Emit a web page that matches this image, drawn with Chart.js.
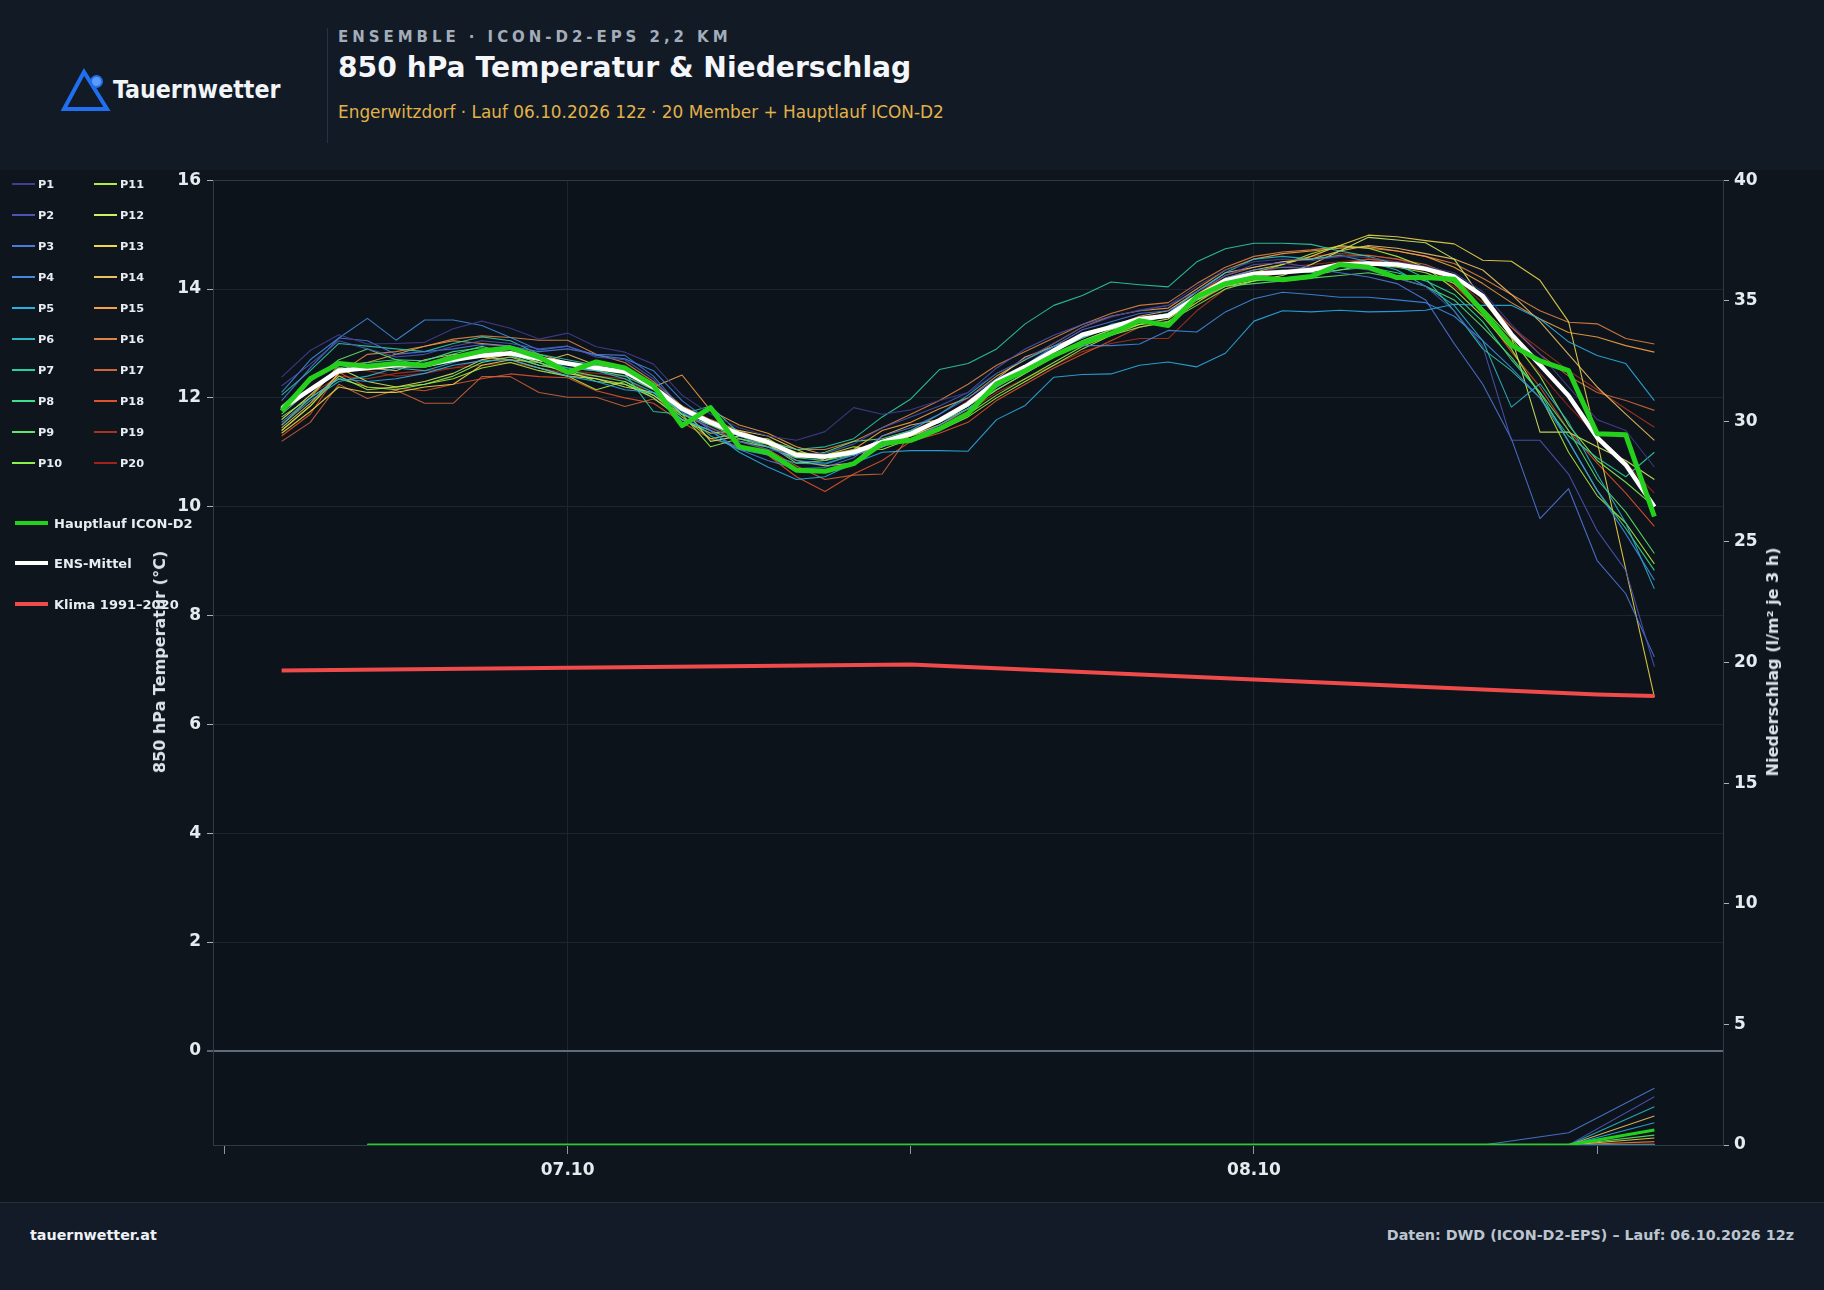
<!DOCTYPE html>
<html lang="de">
<head>
<meta charset="utf-8">
<title>850 hPa Temperatur &amp; Niederschlag</title>
<script src="https://cdn.jsdelivr.net/npm/chart.js@4.4.1/dist/chart.umd.min.js"></script>
<style>
  html, body { margin: 0; padding: 0; }
  body {
    width: 1824px; height: 1290px; position: relative; overflow: hidden;
    background: #0f151d; font-family: "DejaVu Sans", sans-serif;
  }
  .abs { position: absolute; white-space: nowrap; line-height: 1; }
  #header { position: absolute; left: 0; top: 0; width: 1824px; height: 170px; background: #111a25; }
  #brand { left: 113px; top: 78px; font-family: "DejaVu Sans Condensed", "DejaVu Sans", sans-serif; font-stretch: condensed; font-weight: bold; font-size: 24.7px; color: #f2f5f8; }
  #divider { left: 327px; top: 28px; width: 1px; height: 115px; background: #273240; }
  #kicker { left: 338px; top: 30px; font-weight: bold; font-size: 15px; letter-spacing: 3.95px; color: #a3adba; }
  #title { left: 338px; top: 53.5px; font-weight: bold; font-size: 28.2px; color: #f4f6f9; }
  #subtitle { left: 338px; top: 104px; font-size: 16.9px; color: #e2b24a; }
  #chartBox { position: absolute; left: 0; top: 164px; width: 1824px; height: 1038px; }
  #footer { position: absolute; left: 0; top: 1202px; width: 1824px; height: 88px; background: #121b27; border-top: 1px solid #243040; box-sizing: border-box; }
  .foot { top: 25px; font-weight: bold; font-size: 14.3px; }
  .legTxt { font-weight: bold; color: #e8edf2; }
  .legLine { position: absolute; }
  .axTitle { position: absolute; white-space: nowrap; font-weight: bold; font-size: 16px; color: #dde3ea; transform: translate(-50%, -50%) rotate(-90deg); line-height: 1; }
</style>
</head>
<body>
<div id="header">
  <svg class="abs" style="left:50px;top:60px" width="64" height="56" viewBox="0 0 64 56">
    <polygon points="34,12 14,49 57,49" fill="none" stroke="#1f6ff0" stroke-width="4" stroke-linejoin="miter"/>
    <circle cx="46.5" cy="21.5" r="5.5" fill="#5c9cf6" stroke="#1f6ff0" stroke-width="2"/>
  </svg>
  <div id="brand" class="abs">Tauernwetter</div>
  <div id="divider" class="abs"></div>
  <div id="kicker" class="abs">ENSEMBLE · ICON-D2-EPS 2,2 KM</div>
  <div id="title" class="abs">850 hPa Temperatur &amp; Niederschlag</div>
  <div id="subtitle" class="abs">Engerwitzdorf · Lauf 06.10.2026 12z · 20 Member + Hauptlauf ICON-D2</div>
</div>

<div id="chartBox"><canvas id="chart"></canvas></div>
<div id="legendLayer"></div>
<div class="axTitle" style="left:160px;top:662px">850 hPa Temperatur (°C)</div>
<div class="axTitle" style="left:1773px;top:662px">Niederschlag (l/m² je 3 h)</div>

<div id="footer">
  <div class="abs foot" style="left:30px;color:#eef2f6">tauernwetter.at</div>
  <div class="abs foot" style="right:30px;color:#bcc5cf">Daten: DWD (ICON-D2-EPS) – Lauf: 06.10.2026 12z</div>
</div>

<script>
// hours since 06.10 00:00 (local), hourly temperature steps
const tempHours = [14, 15, 16, 17, 18, 19, 20, 21, 22, 23, 24, 25, 26, 27, 28, 29, 30, 31, 32, 33, 34, 35, 36, 37, 38,
  39, 40, 41, 42, 43, 44, 45, 46, 47, 48, 49, 50, 51, 52, 53, 54, 55, 56, 57, 58, 59, 60, 61, 62];
// 3-hourly precipitation steps
const precipHours = [17, 20, 23, 26, 29, 32, 35, 38, 41, 44, 47, 50, 53, 56, 59, 62];

const xTickHours = [12, 24, 36, 48, 60];
const xTickLabels = ["", "07.10", "", "08.10", ""];
const tempTicks = [0, 2, 4, 6, 8, 10, 12, 14, 16];

const memberNames = ["P1", "P2", "P3", "P4", "P5", "P6", "P7", "P8", "P9", "P10",
  "P11", "P12", "P13", "P14", "P15", "P16", "P17", "P18", "P19", "P20"];
const memberColors = ["#413d8f", "#4a55b5", "#4f78dc", "#3f8be0", "#2aaee6", "#2bb8c6", "#2ccfa5", "#3ee08d", "#5ee66c", "#8cf04a",
  "#b2ee3e", "#d2ee62", "#eed848", "#eec064", "#f5a244", "#e08444", "#d0643a", "#e2522a", "#a8331f", "#a0221a"];

const mainRun = [11.76, 12.35, 12.63, 12.58, 12.63, 12.60, 12.74, 12.86, 12.92, 12.75, 12.47, 12.66, 12.55, 12.23, 11.49, 11.82, 11.10,
  11.00, 10.67, 10.65, 10.79, 11.16, 11.22, 11.43, 11.71, 12.26, 12.50, 12.78, 13.01, 13.18, 13.42, 13.33, 13.86,
  14.10, 14.21, 14.17, 14.23, 14.45, 14.40, 14.21, 14.21, 14.18, 13.59, 12.97, 12.68, 12.50, 11.34, 11.32, 9.82];
const ensMean = [11.80, 12.15, 12.50, 12.55, 12.60, 12.60, 12.70, 12.78, 12.82, 12.72, 12.63, 12.55, 12.48, 12.20, 11.80, 11.55, 11.34,
  11.19, 10.95, 10.92, 11.00, 11.19, 11.34, 11.59, 11.89, 12.30, 12.57, 12.87, 13.16, 13.30, 13.45, 13.51, 13.85,
  14.16, 14.28, 14.31, 14.35, 14.45, 14.47, 14.45, 14.37, 14.23, 13.87, 13.17, 12.61, 12.04, 11.27, 10.77, 10.00];

const climHours = [14, 36, 60, 62];
const climTemp = [6.99, 7.10, 6.55, 6.52];

const memberTemp = [
  // P1
  [12.38, 12.87, 13.16, 12.99, 13.00, 13.02, 13.27, 13.41, 13.28, 13.08, 13.19, 12.94, 12.84, 12.62, 12.05, 11.70, 11.45,
   11.30, 11.22, 11.38, 11.82, 11.70, 11.78, 11.95, 12.10, 12.45, 12.72, 13.00, 13.30, 13.48, 13.62, 13.70, 14.05,
   14.35, 14.50, 14.55, 14.52, 14.60, 14.58, 14.50, 14.42, 14.30, 13.95, 13.35, 12.80, 12.20, 11.60, 11.40, 10.73],
  // P2
  [12.22, 12.62, 13.05, 12.90, 12.75, 12.80, 12.95, 13.05, 13.00, 12.90, 12.95, 12.75, 12.70, 12.35, 11.75, 11.45, 11.20,
   11.05, 10.95, 10.98, 11.15, 11.45, 11.65, 11.85, 12.10, 12.55, 12.90, 13.15, 13.35, 13.50, 13.60, 13.70, 13.95,
   14.25, 14.45, 14.48, 14.40, 14.42, 14.35, 14.20, 14.05, 13.60, 12.95, 11.22, 11.22, 10.60, 9.56, 8.83, 7.06],
  // P3
  [11.95, 12.55, 13.10, 13.05, 12.80, 12.85, 12.90, 12.98, 12.95, 12.85, 12.90, 12.80, 12.78, 12.40, 11.80, 11.40, 11.05,
   10.85, 10.70, 10.72, 10.90, 11.30, 11.45, 11.70, 12.00, 12.35, 12.60, 12.95, 13.25, 13.40, 13.55, 13.60, 13.85,
   14.20, 14.35, 14.40, 14.38, 14.30, 14.22, 14.10, 13.80, 13.00, 12.25, 11.25, 9.78, 10.33, 9.01, 8.40, 7.24],
  // P4
  [12.10, 12.70, 13.10, 13.46, 13.06, 13.43, 13.43, 13.33, 13.11, 12.88, 12.95, 12.78, 12.72, 12.50, 11.95, 11.55, 11.30,
   11.10, 10.85, 10.80, 10.95, 11.10, 11.25, 11.50, 11.80, 12.20, 12.50, 12.80, 12.96, 12.96, 12.99, 13.24, 13.21,
   13.58, 13.82, 13.94, 13.90, 13.85, 13.85, 13.80, 13.75, 13.50, 13.05, 12.55, 12.00, 11.20, 10.30, 9.50, 8.65],
  // P5
  [11.55, 12.00, 12.35, 12.30, 12.35, 12.45, 12.60, 12.68, 12.70, 12.55, 12.40, 12.30, 12.15, 12.10, 11.60, 11.40, 11.00,
   10.73, 10.50, 10.55, 10.80, 11.00, 11.03, 11.03, 11.02, 11.60, 11.86, 12.38, 12.43, 12.44, 12.60, 12.66, 12.57,
   12.82, 13.41, 13.60, 13.58, 13.61, 13.58, 13.59, 13.61, 13.72, 13.70, 13.70, 13.45, 13.03, 12.78, 12.63, 11.95],
  // P6
  [11.50, 11.95, 12.30, 12.40, 12.55, 12.50, 12.65, 12.80, 12.90, 12.75, 12.55, 12.50, 12.35, 12.10, 11.75, 11.30, 11.05,
   10.95, 10.80, 10.78, 10.95, 11.20, 11.40, 11.70, 12.05, 12.45, 12.70, 12.95, 13.10, 13.35, 13.45, 13.55, 13.95,
   14.30, 14.55, 14.60, 14.55, 14.62, 14.50, 14.35, 14.05, 13.70, 13.05, 11.83, 12.26, 11.55, 10.60, 9.70, 8.49],
  // P7
  [12.05, 12.50, 13.00, 12.95, 12.90, 12.85, 13.00, 13.12, 13.05, 12.80, 12.70, 12.60, 12.45, 11.75, 11.70, 11.85, 11.35,
   11.20, 11.05, 11.10, 11.25, 11.65, 11.98, 12.52, 12.63, 12.90, 13.36, 13.70, 13.88, 14.13, 14.08, 14.04, 14.50,
   14.74, 14.84, 14.84, 14.82, 14.70, 14.60, 14.45, 14.20, 13.60, 12.90, 12.50, 12.00, 11.30, 10.90, 10.55, 11.00],
  // P8
  [11.70, 12.15, 12.55, 12.65, 12.70, 12.68, 12.85, 12.92, 12.78, 12.60, 12.55, 12.50, 12.40, 12.15, 11.70, 11.50, 11.25,
   11.10, 10.90, 10.85, 10.95, 11.20, 11.35, 11.55, 11.85, 12.25, 12.55, 12.85, 13.10, 13.30, 13.45, 13.55, 13.85,
   14.10, 14.30, 14.35, 14.30, 14.35, 14.40, 14.30, 14.15, 13.90, 13.40, 12.70, 12.10, 11.20, 10.30, 9.60, 8.83],
  // P9
  [11.85, 12.30, 12.70, 12.90, 12.70, 12.60, 12.80, 12.95, 12.80, 12.65, 12.50, 12.40, 12.30, 12.00, 11.60, 11.40, 11.20,
   11.10, 10.90, 11.00, 11.20, 11.25, 11.40, 11.55, 11.80, 12.15, 12.45, 12.75, 13.05, 13.25, 13.40, 13.50, 13.80,
   14.05, 14.10, 14.15, 14.20, 14.25, 14.30, 14.20, 14.05, 13.80, 13.30, 12.75, 12.10, 11.40, 10.50, 9.90, 9.14],
  // P10
  [11.65, 12.00, 12.35, 12.20, 12.15, 12.25, 12.40, 12.65, 12.75, 12.60, 12.50, 12.30, 12.25, 12.05, 11.70, 11.10, 11.25,
   11.15, 10.80, 10.85, 11.05, 11.15, 11.30, 11.45, 11.70, 12.05, 12.35, 12.65, 12.95, 13.15, 13.30, 13.40, 13.70,
   14.00, 14.15, 14.20, 14.25, 14.35, 14.45, 14.40, 14.30, 14.10, 13.65, 13.10, 12.40, 11.50, 10.85, 10.45, 10.00],
  // P11
  [11.40, 11.85, 12.40, 12.15, 12.20, 12.25, 12.35, 12.55, 12.65, 12.50, 12.40, 12.15, 12.30, 12.05, 11.65, 11.25, 11.35,
   11.20, 11.00, 10.95, 11.10, 11.05, 11.25, 11.40, 11.65, 12.00, 12.30, 12.60, 12.90, 13.15, 13.35, 13.40, 13.75,
   14.10, 14.30, 14.45, 14.65, 14.80, 14.75, 14.60, 14.40, 14.00, 13.50, 12.90, 12.05, 11.00, 10.20, 9.70, 8.95],
  // P12
  [11.60, 12.05, 12.55, 12.30, 12.20, 12.30, 12.45, 12.70, 12.80, 12.65, 12.45, 12.35, 12.20, 12.10, 11.85, 11.20, 11.30,
   11.25, 10.95, 10.90, 10.95, 11.10, 11.35, 11.55, 11.85, 12.20, 12.50, 12.80, 13.00, 13.20, 13.35, 13.45, 13.80,
   14.05, 14.15, 14.25, 14.45, 14.70, 14.95, 14.90, 14.85, 14.55, 13.80, 13.12, 11.37, 11.37, 11.10, 10.85, 10.50],
  // P13
  [11.35, 11.75, 12.20, 12.10, 12.10, 12.20, 12.25, 12.60, 12.70, 12.55, 12.40, 12.35, 12.25, 12.00, 11.60, 11.35, 11.40,
   11.30, 11.05, 10.85, 11.00, 11.10, 11.30, 11.50, 11.80, 12.15, 12.45, 12.75, 13.05, 13.25, 13.40, 13.50, 13.90,
   14.20, 14.35, 14.45, 14.60, 14.80, 14.99, 14.96, 14.89, 14.83, 14.53, 14.51, 14.16, 13.40, 11.20, 8.85, 6.50],
  // P14
  [11.45, 11.90, 12.45, 12.55, 12.50, 12.70, 12.80, 12.75, 12.70, 12.65, 12.80, 12.60, 12.55, 12.20, 11.70, 11.50, 11.30,
   11.15, 10.85, 10.75, 10.80, 11.30, 11.50, 11.60, 11.90, 12.35, 12.75, 12.95, 13.15, 13.30, 13.50, 13.60, 13.95,
   14.30, 14.40, 14.50, 14.55, 14.70, 14.80, 14.75, 14.65, 14.55, 14.35, 13.90, 13.40, 12.80, 12.20, 11.70, 11.22],
  // P15
  [11.50, 12.00, 12.60, 12.65, 12.80, 12.95, 13.05, 13.00, 12.95, 12.80, 12.65, 12.55, 12.50, 12.20, 12.42, 11.77, 11.50,
   11.35, 11.10, 10.95, 11.05, 11.40, 11.55, 11.80, 12.00, 12.40, 12.70, 13.00, 13.30, 13.50, 13.60, 13.65, 14.00,
   14.35, 14.55, 14.65, 14.70, 14.75, 14.78, 14.70, 14.60, 14.40, 14.10, 13.75, 13.45, 13.20, 13.12, 12.96, 12.84],
  // P16
  [11.40, 11.85, 12.45, 12.80, 12.85, 12.95, 13.08, 13.14, 13.11, 13.06, 13.06, 12.80, 12.65, 12.30, 11.85, 11.60, 11.40,
   11.20, 11.05, 11.05, 11.20, 11.45, 11.70, 11.95, 12.25, 12.60, 12.85, 13.10, 13.35, 13.55, 13.70, 13.75, 14.10,
   14.40, 14.60, 14.68, 14.72, 14.78, 14.75, 14.70, 14.60, 14.47, 14.20, 13.90, 13.60, 13.39, 13.36, 13.09, 12.99],
  // P17
  [11.20, 11.55, 12.25, 11.99, 12.14, 11.90, 11.90, 12.39, 12.39, 12.10, 12.01, 12.01, 11.84, 11.98, 11.70, 11.45, 11.20,
   11.05, 10.75, 10.50, 10.58, 10.60, 11.35, 11.60, 11.85, 12.25, 12.55, 12.85, 13.10, 13.30, 13.45, 13.55, 13.90,
   14.25, 14.40, 14.50, 14.55, 14.60, 14.62, 14.55, 14.45, 14.25, 13.85, 13.30, 12.80, 12.40, 12.10, 11.95, 11.77],
  // P18
  [11.30, 11.70, 12.47, 12.19, 12.18, 12.13, 12.25, 12.35, 12.44, 12.39, 12.37, 12.13, 12.00, 11.90, 11.55, 11.25, 11.10,
   10.95, 10.55, 10.28, 10.60, 10.85, 11.20, 11.35, 11.55, 11.95, 12.25, 12.55, 12.80, 13.05, 13.30, 13.40, 13.75,
   14.05, 14.20, 14.30, 14.40, 14.45, 14.55, 14.50, 14.40, 14.10, 13.55, 12.85, 12.20, 11.40, 10.80, 10.25, 9.64],
  // P19
  [11.60, 12.05, 12.40, 12.35, 12.45, 12.50, 12.55, 12.60, 12.65, 12.55, 12.45, 12.40, 12.35, 12.05, 11.60, 11.40, 11.20,
   11.10, 10.95, 10.90, 10.95, 11.15, 11.30, 11.50, 11.75, 12.10, 12.35, 12.60, 12.85, 13.00, 13.09, 13.09, 13.60,
   14.00, 14.25, 14.45, 14.60, 14.65, 14.62, 14.55, 14.40, 14.20, 13.75, 13.30, 12.90, 12.50, 12.15, 11.80, 11.46],
  // P20
  [11.70, 12.15, 12.55, 12.50, 12.40, 12.45, 12.55, 12.70, 12.75, 12.60, 12.50, 12.45, 12.40, 12.15, 11.70, 11.45, 11.25,
   11.10, 10.90, 10.95, 11.05, 11.20, 11.40, 11.60, 11.95, 12.30, 12.55, 12.80, 13.05, 13.25, 13.40, 13.50, 13.85,
   14.15, 14.30, 14.40, 14.45, 14.50, 14.55, 14.45, 14.30, 14.05, 13.60, 13.05, 12.45, 11.85, 11.30, 10.80, 10.25]
];

// precipitation l/m² per 3 h
const mainPrecip = [0, 0, 0, 0, 0, 0, 0, 0, 0, 0, 0, 0, 0, 0, 0, 0.62];
const memberPrecip = [
  [0, 0, 0, 0, 0, 0, 0, 0, 0, 0, 0, 0, 0, 0, 0, 0],
  [0, 0, 0, 0, 0, 0, 0, 0, 0, 0, 0, 0, 0, 0, 0, 2.00],
  [0, 0, 0, 0, 0, 0, 0, 0, 0, 0, 0, 0, 0, 0, 0.51, 2.35],
  [0, 0, 0, 0, 0, 0, 0, 0, 0, 0, 0, 0, 0, 0, 0, 0],
  [0, 0, 0, 0, 0, 0, 0, 0, 0, 0, 0, 0, 0, 0, 0, 0.92],
  [0, 0, 0, 0, 0, 0, 0, 0, 0, 0, 0, 0, 0, 0, 0, 1.59],
  [0, 0, 0, 0, 0, 0, 0, 0, 0, 0, 0, 0, 0, 0, 0, 0],
  [0, 0, 0, 0, 0, 0, 0, 0, 0, 0, 0, 0, 0, 0, 0, 0],
  [0, 0, 0, 0, 0, 0, 0, 0, 0, 0, 0, 0, 0, 0, 0, 0.41],
  [0, 0, 0, 0, 0, 0, 0, 0, 0, 0, 0, 0, 0, 0, 0, 0],
  [0, 0, 0, 0, 0, 0, 0, 0, 0, 0, 0, 0, 0, 0, 0, 0],
  [0, 0, 0, 0, 0, 0, 0, 0, 0, 0, 0, 0, 0, 0, 0, 0],
  [0, 0, 0, 0, 0, 0, 0, 0, 0, 0, 0, 0, 0, 0, 0, 0.29],
  [0, 0, 0, 0, 0, 0, 0, 0, 0, 0, 0, 0, 0, 0, 0, 1.20],
  [0, 0, 0, 0, 0, 0, 0, 0, 0, 0, 0, 0, 0, 0, 0, 0],
  [0, 0, 0, 0, 0, 0, 0, 0, 0, 0, 0, 0, 0, 0, 0, 0.14],
  [0, 0, 0, 0, 0, 0, 0, 0, 0, 0, 0, 0, 0, 0, 0, 0],
  [0, 0, 0, 0, 0, 0, 0, 0, 0, 0, 0, 0, 0, 0, 0, 0.04],
  [0, 0, 0, 0, 0, 0, 0, 0, 0, 0, 0, 0, 0, 0, 0, 0],
  [0, 0, 0, 0, 0, 0, 0, 0, 0, 0, 0, 0, 0, 0, 0, 0]
];

const mainName = "Hauptlauf ICON-D2";
const meanName = "ENS-Mittel";
const climName = "Klima 1991–2020";
const mainColor = "#25d01c";
const meanColor = "#ffffff";
const climColor = "#ef4b4b";

const toPoints = (xs, ys) => xs.map((x, i) => ({ x: x, y: ys[i] }));

const datasets = [];
datasets.push({ label: mainName, data: toPoints(tempHours, mainRun), borderColor: mainColor, borderWidth: 5, yAxisID: "y", order: 0 });
datasets.push({ label: meanName, data: toPoints(tempHours, ensMean), borderColor: meanColor, borderWidth: 4.5, yAxisID: "y", order: 1 });
datasets.push({ label: climName, data: toPoints(climHours, climTemp), borderColor: climColor, borderWidth: 4, yAxisID: "y", order: 2 });
datasets.push({ label: mainName + " RR", data: toPoints(precipHours, mainPrecip), borderColor: mainColor, borderWidth: 3, yAxisID: "y2", order: 3 });
memberNames.forEach((name, i) => {
  datasets.push({ label: name, data: toPoints(tempHours, memberTemp[i]), borderColor: memberColors[i] + "e0", borderWidth: 1.1, yAxisID: "y", order: 10 });
  datasets.push({ label: name + " RR", data: toPoints(precipHours, memberPrecip[i]), borderColor: memberColors[i] + "e0", borderWidth: 1.1, yAxisID: "y2", order: 11 });
});

const tickFont = { family: "DejaVu Sans", size: 17, weight: "bold" };
const gridColor = "#1b2632";

const framePlugin = {
  id: "frame",
  beforeDraw(chart) {
    const { ctx, chartArea: a } = chart;
    ctx.save();
    ctx.fillStyle = "#0d131a";
    ctx.fillRect(a.left, a.top, a.right - a.left, a.bottom - a.top);
    ctx.restore();
  },
  afterDraw(chart) {
    const { ctx, chartArea: a } = chart;
    ctx.save();
    ctx.strokeStyle = "#2c3a4a";
    ctx.lineWidth = 1;
    ctx.strokeRect(Math.round(a.left) + 0.5, Math.round(a.top) + 0.5, Math.round(a.right - a.left), Math.round(a.bottom - a.top));
    ctx.restore();
  }
};

new Chart(document.getElementById("chart"), {
  type: "line",
  data: { datasets: datasets },
  plugins: [framePlugin],
  options: {
    responsive: true,
    maintainAspectRatio: false,
    animation: false,
    devicePixelRatio: 1,
    layout: { padding: { left: 147, right: 37, top: 0, bottom: 0 } },
    elements: { point: { radius: 0 }, line: { tension: 0, borderJoinStyle: "round" } },
    plugins: { legend: { display: false }, tooltip: { enabled: false } },
    scales: {
      x: {
        type: "linear",
        min: 11.6,
        max: 64.4,
        afterBuildTicks: (scale) => { scale.ticks = xTickHours.map(v => ({ value: v })); },
        afterFit: (scale) => { scale.height = 57; },
        ticks: {
          color: "#e6ebf0",
          font: tickFont,
          padding: 6,
          maxRotation: 0,
          autoSkip: false,
          callback: (value) => xTickLabels[xTickHours.indexOf(value)]
        },
        grid: {
          color: (ctx) => (ctx.tick && xTickLabels[xTickHours.indexOf(ctx.tick.value)] ? gridColor : "rgba(0,0,0,0)"),
          tickColor: "#8d98a6",
          tickLength: 9
        },
        border: { display: false }
      },
      y: {
        position: "left",
        min: -1.73,
        max: 16,
        afterBuildTicks: (scale) => { scale.ticks = tempTicks.map(v => ({ value: v })); },
        afterFit: (scale) => { scale.width = 66; },
        ticks: { color: "#e6ebf0", font: tickFont, padding: 6 },
        grid: {
          color: (ctx) => (ctx.tick && ctx.tick.value === 0 ? "#5f6c7c" : gridColor),
          lineWidth: (ctx) => (ctx.tick && ctx.tick.value === 0 ? 2 : 1),
          tickColor: "#a8b2be",
          tickWidth: 1,
          tickLength: 6
        },
        border: { display: false }
      },
      y2: {
        position: "right",
        min: 0,
        max: 40,
        afterFit: (scale) => { scale.width = 64; },
        ticks: { stepSize: 5, color: "#e6ebf0", font: tickFont, padding: 5 },
        grid: { drawOnChartArea: false, tickColor: "#a8b2be", tickLength: 6 },
        border: { display: false }
      }
    }
  }
});

// legends outside the plot
const layer = document.getElementById("legendLayer");
function addLegend(text, color, lineX, lineW, lineH, textX, cy, fontSize) {
  const line = document.createElement("div");
  line.className = "legLine";
  line.style.cssText = `left:${lineX}px;top:${cy - lineH / 2}px;width:${lineW}px;height:${lineH}px;background:${color}`;
  layer.appendChild(line);
  const t = document.createElement("div");
  t.className = "abs legTxt";
  t.style.cssText = `left:${textX}px;top:${cy + 0.365 * fontSize - 0.846 * fontSize}px;font-size:${fontSize}px`;
  t.textContent = text;
  layer.appendChild(t);
}
memberNames.forEach((name, i) => {
  const col = i < 10 ? 0 : 1;
  const row = i % 10;
  addLegend(name, memberColors[i], col ? 94 : 12, 23, 2, col ? 120 : 38, 184.3 + 31 * row, 11.3);
});
addLegend(mainName, mainColor, 15, 33, 4, 54, 523.3, 13);
addLegend(meanName, meanColor, 15, 33, 4, 54, 563.3, 13);
addLegend(climName, climColor, 15, 33, 4, 54, 604, 13);
</script>
</body>
</html>
